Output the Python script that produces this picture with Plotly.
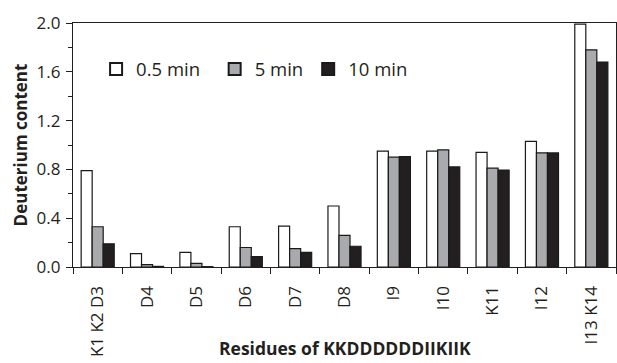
import plotly.graph_objects as go

categories = ["K1 K2 D3", "D4", "D5", "D6", "D7", "D8", "I9", "I10", "K11", "I12", "I13 K14"]
series_names = ["0.5 min\u00a0\u00a0", "5 min", "10 min"]
vals_05 = [0.79, 0.11, 0.12, 0.33, 0.335, 0.50, 0.95, 0.95, 0.94, 1.03, 1.99]
vals_5 = [0.33, 0.02, 0.03, 0.16, 0.15, 0.26, 0.90, 0.96, 0.81, 0.935, 1.78]
vals_10 = [0.19, 0.005, 0.003, 0.085, 0.12, 0.17, 0.905, 0.82, 0.795, 0.935, 1.68]
colors = ["#ffffff", "#a9aaad", "#231f20"]
x_title = "Residues of KKDDDDDDIIKIIK"
y_title = "Deuterium content"

FONT = "Open Sans"

fig = go.Figure()
for name, vals, col in zip(series_names, [vals_05, vals_5, vals_10], colors):
    fig.add_trace(go.Bar(
        x=categories, y=vals, name=name,
        marker=dict(color=col, line=dict(color="#1a1a1a", width=1.2)),
    ))

fig.update_layout(
    width=617, height=363,
    margin=dict(l=73, r=1, t=23, b=96, autoexpand=False),
    plot_bgcolor="white", paper_bgcolor="white",
    barmode="group", bargap=0.33, bargroupgap=0,
    font=dict(family=FONT, size=17, color="#231f20"),
    showlegend=True,
    legend=dict(
        orientation="h", x=0.0425, xanchor="left", y=0.81, yanchor="middle",
        bgcolor="rgba(0,0,0,0)", font=dict(size=18.5, family=FONT),
        itemsizing="constant",
    ),
    annotations=[dict(
        text="<b>" + x_title + "</b>", xref="paper", yref="paper",
        x=0.5, y=-0.332, xanchor="center", yanchor="middle",
        showarrow=False, font=dict(size=17.5, family=FONT, color="#231f20"),
    )],
)
fig.update_xaxes(
    type="category", tickson="boundaries", ticks="outside", ticklen=6,
    tickcolor="#231f20", linecolor="#231f20", linewidth=1.3, mirror=True,
    tickangle=-90, ticklabelstandoff=11, tickfont=dict(size=17),
    showgrid=False, automargin=False,
)
fig.update_yaxes(
    range=[0, 2.0], tick0=0, dtick=0.4, tickformat=".1f",
    ticks="outside", ticklen=6, tickcolor="#231f20",
    linecolor="#231f20", linewidth=1.3, mirror=True,
    minor=dict(dtick=0.2, ticks="outside", ticklen=4, tickcolor="#231f20"),
    showgrid=False, zeroline=False, tickfont=dict(size=17),
    ticklabelstandoff=2, automargin=False,
    title=dict(text="<b>" + y_title + "</b>", font=dict(size=17), standoff=4),
)

fig.write_html("out.html", config={"displayModeBar": False},
               post_script="document.body.style.margin='0px';")
